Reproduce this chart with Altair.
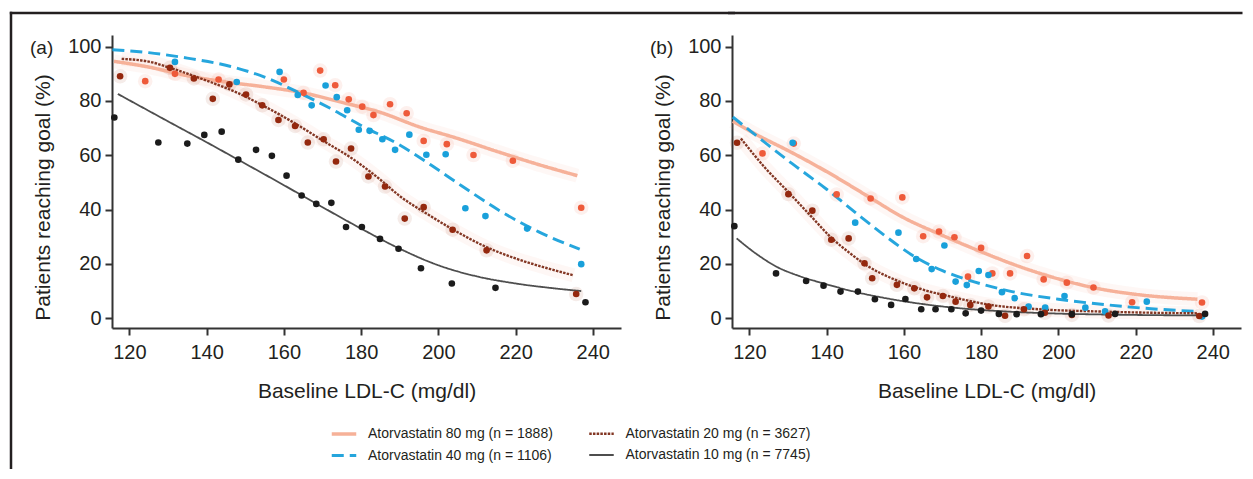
import altair as alt
import pandas as pd

# ---------------- data ----------------
S80 = "Atorvastatin 80 mg (n = 1888)"
S20 = "Atorvastatin 20 mg (n = 3627)"
S40 = "Atorvastatin 40 mg (n = 1106)"
S10 = "Atorvastatin 10 mg (n = 7745)"
SERIES = [S80, S40, S20, S10]

X_TICKS = [120, 140, 160, 180, 200, 220, 240]
Y_TICKS = [0, 20, 40, 60, 80, 100]

# ---- panel (a) observed points ----
A80_X = [124.1, 131.8, 143.1, 160.0, 165.1, 169.4, 173.3, 176.8, 180.3, 183.2, 187.5, 191.8, 196.2, 202.2, 209.1, 219.3, 237.0]
A80_Y = [87.3, 90.0, 87.9, 87.9, 83.0, 91.2, 85.8, 80.6, 77.9, 74.8, 78.8, 75.5, 65.3, 64.1, 60.1, 58.0, 40.7]
A40_X = [131.8, 147.8, 158.9, 163.6, 167.2, 170.8, 173.7, 176.4, 179.4, 182.2, 185.5, 188.8, 192.5, 196.9, 201.9, 207.0, 212.2, 223.0, 237.0]
A40_Y = [94.4, 87.0, 90.7, 82.2, 78.4, 85.7, 81.4, 76.6, 69.4, 69.0, 65.9, 62.0, 67.6, 60.2, 60.4, 40.5, 37.6, 33.0, 19.9]
A20_X = [117.6, 130.5, 136.7, 141.6, 145.9, 150.2, 154.4, 158.6, 162.9, 166.2, 170.3, 173.5, 177.4, 181.9, 186.2, 191.3, 196.2, 203.7, 212.5, 235.7]
A20_Y = [89.1, 92.2, 88.3, 80.8, 86.1, 82.4, 78.4, 73.0, 70.8, 64.7, 65.9, 57.7, 62.5, 52.2, 48.5, 36.7, 40.9, 32.6, 25.0, 8.9]
A10_X = [116.1, 127.5, 135.0, 139.4, 143.9, 148.2, 152.8, 156.9, 160.7, 164.6, 168.4, 172.3, 176.1, 180.2, 184.9, 189.7, 195.5, 203.5, 214.8, 238.1]
A10_Y = [73.9, 64.7, 64.3, 67.5, 68.7, 58.4, 62.0, 59.8, 52.5, 45.2, 42.1, 42.5, 33.6, 33.6, 29.2, 25.6, 18.4, 12.8, 11.2, 5.9]

# ---- panel (a) fitted curves ----
CA80_X = [116, 125, 135, 145, 155, 165, 175, 185, 195, 205, 215, 225, 236]
CA80_Y = [94.6, 92.5, 89.3, 87.0, 85.2, 83.0, 79.5, 75.8, 70.5, 66.2, 61.5, 57.0, 52.5]
CA40_X = [115.6, 125, 135, 146, 155, 164, 172, 180, 190, 198, 206, 216, 226, 236.6]
CA40_Y = [98.9, 97.8, 95.8, 92.8, 88.8, 83.0, 77.3, 71.0, 63.8, 56.5, 48.8, 39.5, 31.8, 25.4]
CA20_X = [118, 125, 131, 140, 148, 155, 162, 170, 178, 185, 190, 197, 204, 212, 220, 228, 235]
CA20_Y = [95.5, 94.5, 92.0, 87.5, 83.0, 78.0, 72.5, 65.5, 58.5, 51.0, 45.0, 38.5, 32.5, 26.5, 22.0, 18.5, 15.8]
CA10_X = [117, 130, 140, 148, 160, 170, 180, 190, 200, 210, 220, 230, 237]
CA10_Y = [82.6, 72.5, 64.8, 58.5, 49.0, 40.9, 33.0, 25.6, 19.5, 15.4, 12.8, 11.0, 10.0]

# ---- panel (b) observed points ----
B80_X = [123.4, 131.5, 142.6, 151.4, 159.6, 165.0, 169.1, 173.1, 176.6, 180.0, 182.9, 187.5, 191.9, 196.2, 202.2, 209.1, 219.1, 237.2]
B80_Y = [60.7, 64.3, 45.6, 44.1, 44.5, 30.2, 31.9, 29.8, 15.3, 25.9, 16.5, 16.5, 22.9, 14.3, 13.1, 11.3, 5.9, 5.8]
B40_X = [131.2, 147.4, 158.6, 163.2, 167.2, 170.5, 173.4, 176.3, 179.4, 181.9, 185.4, 188.7, 192.3, 196.6, 201.6, 207.0, 212.1, 222.9, 237.2]
B40_Y = [64.6, 35.2, 31.5, 21.8, 18.1, 26.8, 13.5, 12.2, 17.4, 15.9, 9.6, 7.4, 4.3, 3.9, 8.2, 3.9, 2.5, 6.1, 0.6]
B20_X = [116.8, 130.1, 136.3, 141.2, 145.7, 149.8, 151.8, 158.2, 162.7, 166.0, 170.1, 173.4, 177.2, 181.9, 186.2, 191.1, 196.5, 203.5, 213.0, 236.5]
B20_Y = [64.6, 45.7, 39.6, 28.9, 29.4, 20.2, 14.7, 12.3, 11.0, 7.7, 8.2, 6.1, 4.9, 4.3, 0.9, 3.3, 2.0, 1.2, 1.0, 0.8]
B10_X = [116.1, 126.9, 134.7, 139.2, 143.6, 148.1, 152.5, 156.7, 160.4, 164.5, 168.2, 172.3, 176.0, 180.0, 184.6, 189.2, 195.5, 203.5, 214.7, 238.0]
B10_Y = [33.9, 16.5, 13.7, 12.0, 9.8, 9.8, 7.0, 4.9, 7.1, 3.3, 3.3, 3.3, 1.8, 2.8, 1.6, 1.5, 1.5, 1.5, 1.6, 1.6]

# ---- panel (b) fitted curves ----
CB80_X = [115.7, 122, 131, 140, 150, 160, 170, 180, 190, 200, 210, 220, 236]
CB80_Y = [72.5, 67.5, 61.0, 54.0, 45.5, 37.0, 30.5, 24.5, 19.0, 14.5, 11.0, 8.8, 7.0]
CB40_X = [115.7, 122, 131, 140, 147.4, 155, 163, 170, 178, 188, 200, 212, 224, 236]
CB40_Y = [74.1, 67.0, 57.0, 47.5, 39.0, 30.5, 22.5, 17.5, 13.5, 9.8, 7.0, 5.0, 3.5, 2.5]
CB20_X = [117.8, 124, 130, 136, 141.4, 146, 150, 158, 165, 172, 182, 195, 210, 225, 236]
CB20_Y = [66.2, 55.5, 46.6, 37.5, 29.4, 24.0, 19.8, 14.0, 10.5, 8.0, 5.0, 3.3, 2.5, 2.0, 1.8]
CB10_X = [116.7, 122, 127, 133, 140, 148, 156, 165, 175, 185, 200, 215, 238]
CB10_Y = [29.4, 23.5, 19.0, 15.5, 12.5, 9.5, 7.2, 5.2, 3.6, 2.6, 1.7, 1.3, 1.0]

# ---------------- styles ----------------
LINE_COLORS = ["#f6ad93", "#1aa1db", "#7c2c18", "#454545"]
LINE_DASH = [[1, 0], [12, 6], [2.5, 1.2], [1, 0]]
LINE_WIDTH = [3.5, 1.8, 1.6, 1.5]
POINT_COLORS = {S80: "#ee5a3a", S20: "#94280e", S40: "#19a0da", S10: "#1b1b1b"}
HAZY = [S80, S20]

W, H = 509, 293
XDOM = [115.5, 247.3]
YDOM = [-3.6, 104.3]
TXT = "#231f20"


def points_df(series_xy):
    rows = []
    for s, (xs, ys) in series_xy.items():
        for x, y in zip(xs, ys):
            rows.append({"x": x, "y": y, "series": s, "pcolor": POINT_COLORS[s]})
    return pd.DataFrame(rows)


def curves_df(series_xy):
    rows = []
    for s, (xs, ys) in series_xy.items():
        for x, y in zip(xs, ys):
            rows.append({"x": x, "y": y, "series": s})
    return pd.DataFrame(rows)


legend = alt.Legend(
    title=None, orient="none", legendX=218, legendY=385, columns=2,
    symbolType="stroke", symbolSize=600, labelFontSize=14, labelColor=TXT,
    columnPadding=31.5, rowPadding=0.5, labelOffset=10, padding=0,
    labelFont="Liberation Sans", labelLimit=400,
)
sdom = alt.Scale(domain=SERIES, range=LINE_COLORS)


def panel(pts, crv, tag):
    x_enc = alt.X("x:Q", scale=alt.Scale(domain=XDOM, nice=False, zero=False),
                  axis=alt.Axis(values=X_TICKS, title="Baseline LDL-C (mg/dl)"))
    y_enc = alt.Y("y:Q", scale=alt.Scale(domain=YDOM, nice=False, zero=False),
                  axis=alt.Axis(values=Y_TICKS, title="Patients reaching goal (%)", titleY=162))

    base_c = alt.Chart(crv)
    base_p = alt.Chart(pts)

    haze = base_c.transform_filter(alt.FieldOneOfPredicate(field="series", oneOf=HAZY)).mark_line(
        interpolate="monotone", strokeWidth=14, opacity=0.08, color="#f39a7c"
    ).encode(x=x_enc, y=y_enc, detail="series:N")

    halo = base_p.transform_filter(alt.FieldOneOfPredicate(field="series", oneOf=HAZY)).mark_circle(
        size=210, opacity=0.09
    ).encode(x="x:Q", y="y:Q", fill=alt.Fill("pcolor:N", scale=None))

    lines = base_c.mark_line(interpolate="monotone").encode(
        x="x:Q", y="y:Q",
        stroke=alt.Stroke("series:N", scale=sdom, legend=legend),
        strokeDash=alt.StrokeDash("series:N", scale=alt.Scale(domain=SERIES, range=LINE_DASH), legend=legend),
        strokeWidth=alt.StrokeWidth("series:N", scale=alt.Scale(domain=SERIES, range=LINE_WIDTH), legend=legend),
        opacity=alt.value(0.95),
    )

    dots = base_p.mark_circle(size=44, opacity=1).encode(
        x="x:Q", y="y:Q", fill=alt.Fill("pcolor:N", scale=None)
    )

    one = pd.DataFrame({"k": [0]})
    label = alt.Chart(one).mark_text(
        text=tag, align="left", baseline="middle", fontSize=19, color=TXT, font="Liberation Sans"
    ).encode(x=alt.value(-82), y=alt.value(12.5))

    return alt.layer(haze, halo, lines, dots, label).properties(width=W, height=H)


pa = panel(
    points_df({S80: (A80_X, A80_Y), S40: (A40_X, A40_Y), S20: (A20_X, A20_Y), S10: (A10_X, A10_Y)}),
    curves_df({S80: (CA80_X, CA80_Y), S40: (CA40_X, CA40_Y), S20: (CA20_X, CA20_Y), S10: (CA10_X, CA10_Y)}),
    "(a)",
)
pb = panel(
    points_df({S80: (B80_X, B80_Y), S40: (B40_X, B40_Y), S20: (B20_X, B20_Y), S10: (B10_X, B10_Y)}),
    curves_df({S80: (CB80_X, CB80_Y), S40: (CB40_X, CB40_Y), S20: (CB20_X, CB20_Y), S10: (CB10_X, CB10_Y)}),
    "(b)",
)

# outer frame (top and left edges of the figure box)
one = pd.DataFrame({"k": [0]})
frame_left = alt.Chart(one).mark_rule(color="#231f20", strokeWidth=2.5).encode(
    x=alt.value(-101), y=alt.value(-23.2), y2=alt.value(434)
)
frame_top_a = alt.Chart(one).mark_rule(color="#231f20", strokeWidth=2.5).encode(
    x=alt.value(-102.2), x2=alt.value(W + 114), y=alt.value(-22)
)
frame_top_b = alt.Chart(one).mark_rule(color="#231f20", strokeWidth=2.5).encode(
    x=alt.value(-4), x2=alt.value(W + 1.5), y=alt.value(-22)
)

pa = alt.layer(pa, frame_left, frame_top_a)
pb = alt.layer(pb, frame_top_b)

chart = alt.hconcat(pa, pb, spacing=111, bounds="flush").properties(
    padding={"left": 0, "top": 2, "right": 0, "bottom": 0},
    background="white",
).configure_view(stroke=None).configure_axis(
    grid=False, domainColor="#333333", domainWidth=2, tickColor="#333333", tickWidth=2, tickSize=7,
    labelFontSize=20, labelColor=TXT, labelFont="Liberation Sans", labelPadding=4,
    titleFontSize=21, titleColor=TXT, titleFont="Liberation Sans", titleFontWeight="normal",
).configure_axisX(titlePadding=18, labelPadding=7).configure_axisY(titlePadding=14).configure_text(font="Liberation Sans")

chart.save("out.html", embed_options={"renderer": "svg", "actions": False})
